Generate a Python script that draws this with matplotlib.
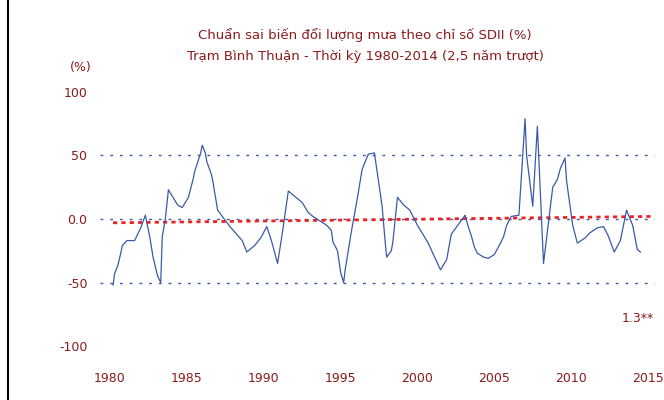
import matplotlib
matplotlib.use('Agg')
import matplotlib.pyplot as plt
from matplotlib.lines import Line2D


years = [1980.2, 1980.3, 1980.5, 1980.7, 1980.8, 1981.1, 1981.6, 1982.0, 1982.3,
         1982.6, 1982.8, 1983.1, 1983.3, 1983.4, 1983.6, 1983.8, 1984.4, 1984.7,
         1985.1, 1985.4, 1985.5, 1985.9, 1986.0, 1986.2, 1986.3, 1986.6, 1986.7,
         1987.0, 1987.8, 1988.6, 1988.9, 1989.4, 1989.8, 1990.2, 1990.5, 1990.9,
         1991.2, 1991.6, 1992.0, 1992.5, 1992.9, 1993.2, 1994.1, 1994.4, 1994.5,
         1994.8, 1995.0, 1995.2, 1995.3, 1995.7, 1996.1, 1996.4, 1996.8, 1997.2,
         1997.5, 1997.7, 1997.9, 1998.0, 1998.3, 1998.4, 1998.7, 1999.1, 1999.5,
         2000.0, 2000.4, 2000.7, 2001.0, 2001.5, 2001.9, 2002.2, 2003.1, 2003.3,
         2003.5, 2003.7, 2003.9, 2004.3, 2004.6, 2005.0, 2005.4, 2005.6, 2005.8,
         2006.1, 2006.6, 2007.0, 2007.1, 2007.5, 2007.8, 2008.2, 2008.5, 2008.8,
         2009.1, 2009.3, 2009.6, 2009.7, 2010.1, 2010.4, 2010.9, 2011.2, 2011.7,
         2012.1, 2012.4, 2012.8, 2013.2, 2013.6, 2014.0, 2014.3, 2014.5]
values = [-52, -43, -37, -27, -21, -17, -17, -7, 3, -15, -30, -45, -50, -14, 0,
          23, 11, 9, 17, 31, 37, 52, 58, 52, 45, 35, 29, 7, -6, -17, -26, -21,
          -15, -6, -17, -35, -12, 22, 18, 13, 5, 2, -5, -9, -18, -25, -42, -50,
          -40, -10, 17, 39, 51, 52, 27, 10, -18, -30, -25, -18, 17, 11, 7, -5,
          -13, -19, -27, -40, -32, -12, 3, -6, -13, -22, -27, -30, -31, -28, -19,
          -14, -5, 2, 3, 79, 50, 10, 73, -35, -5, 25, 31, 40, 48, 30, -5, -19,
          -15, -11, -7, -6, -13, -26, -17, 7, -5, -24, -26]

trend_x = [1980.2, 2015.2]
trend_y = [-3.0, 2.0]

yticks = [100, 50, 0, -50, -100]
ylabels = ['100', '50', '0.0', '-50', '-100']
xticks = [1980, 1985, 1990, 1995, 2000, 2005, 2010, 2015]

txt = '#8b1a1a'
blue = '#3a5aa8'

fig = plt.figure(figsize=(6.64, 4.0), dpi=100)
ax = fig.add_axes([0.1506, 0.1, 0.8358, 0.7])

for lev in [50, 0, -50]:
	ax.axhline(lev, color=blue, lw=1.0, ls=(0, (2, 5)))
ax.plot(trend_x, trend_y, color='#ee2222', lw=2.0, ls=(0, (1.5, 1.5)))
ax.plot(years, values, color=blue, lw=0.9)

ax.set_xlim(1979.35, 2015.45)
ax.set_ylim(-111, 109.4)
ax.set_xticks(xticks)
ax.set_xticklabels([str(y) for y in xticks])
ax.set_yticks(yticks)
ax.set_yticklabels(ylabels)
ax.tick_params(length=0, colors=txt, labelsize=9, pad=9)
for s in ax.spines.values():
	s.set_visible(False)

fig.text(0.55, 0.912, 'Chuẩn sai biến đổi lượng mưa theo chỉ số SDII (%)',
         ha='center', va='center', color=txt, fontsize=9.5)
fig.text(0.55, 0.858, 'Trạm Bình Thuận - Thời kỳ 1980-2014 (2,5 năm trượt)',
         ha='center', va='center', color=txt, fontsize=9.5)
fig.text(0.138, 0.83, '(%)', ha='right', va='center', color=txt, fontsize=9)
fig.text(0.985, 0.205, '1.3**', ha='right', va='center', color=txt, fontsize=9)

fig.add_artist(Line2D([0.012, 0.012], [0, 1], color='black', lw=1.5,
                      transform=fig.transFigure))

plt.savefig('out.png', dpi=100)
plt.close()
